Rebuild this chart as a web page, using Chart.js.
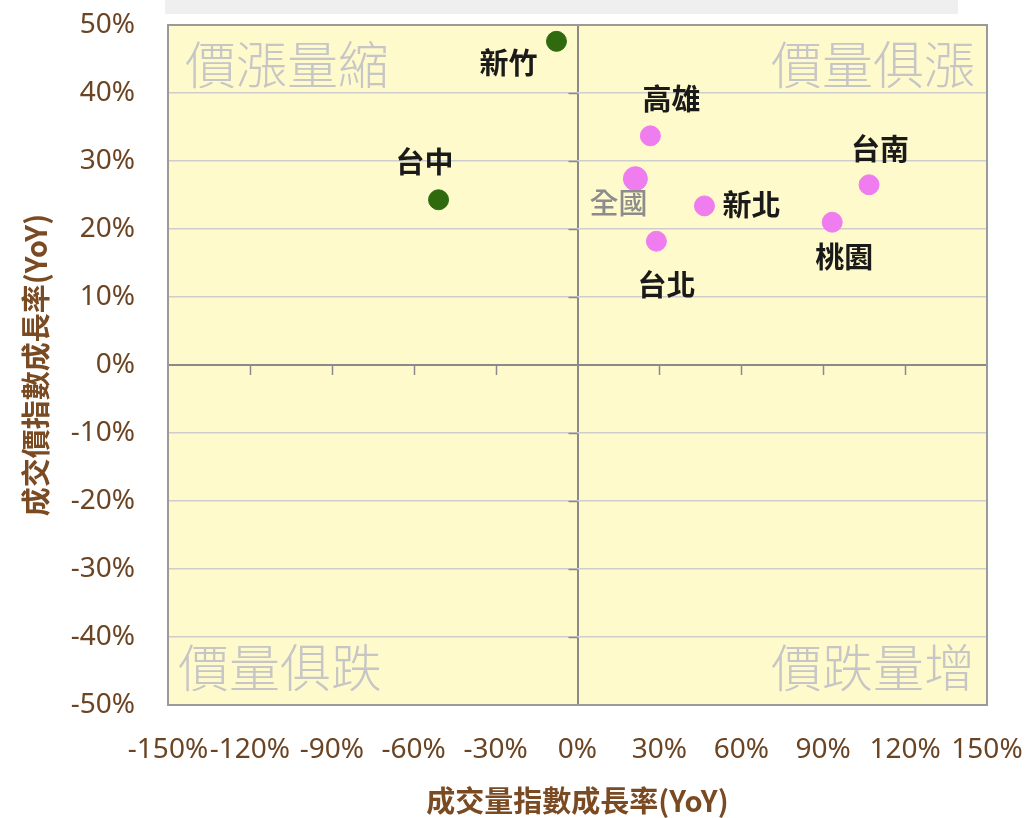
<!DOCTYPE html>
<html>
<head>
<meta charset="utf-8">
<script src="https://cdn.jsdelivr.net/npm/chart.js@4.4.1/dist/chart.umd.min.js"></script>
<style>
  html, body { margin: 0; padding: 0; background: #fff; }
  #wrap { position: relative; width: 1027px; height: 818px; }
  #band { position: absolute; left: 165px; top: 0; width: 793px; height: 14px; background: #efefef; }
  #chart { position: absolute; left: 0; top: 0; }
</style>
</head>
<body>
<div id="wrap">
  <div id="band"></div>
  <canvas id="chart" width="1027" height="818"></canvas>
</div>
<script>
// 成交量 / 成交價 指數年增率 (%)
const cities = ["新竹", "台中", "高雄", "全國", "新北", "台北", "台南", "桃園"];
const volumeYoY = [-7.7, -50.9, 26.7, 21.2, 46.5, 28.9, 106.8, 93.3];
const priceYoY = [47.6, 24.3, 33.7, 27.4, 23.4, 18.2, 26.5, 21.0];
const greenCities = ["新竹", "台中"];

const xTicks = [-150, -120, -90, -60, -30, 0, 30, 60, 90, 120, 150];
const yTicks = [-50, -40, -30, -20, -10, 0, 10, 20, 30, 40, 50];
const quadrantNames = ["價漲量縮", "價量俱漲", "價量俱跌", "價跌量增"];

// label offsets from each point (px)
const labelOffset = {
  "新竹": [-48, 22], "台中": [-14, -38], "高雄": [21, -37], "全國": [-17, 24],
  "新北": [47, -1], "台北": [10, 44], "台南": [11, -36], "桃園": [12, 35]
};

const tickColor = "#6b4423";
const fontCJK = "'Noto Sans CJK TC', 'Noto Sans', sans-serif";

const toPoints = (names) => names.map((n) => {
  const i = cities.indexOf(n);
  return { x: volumeYoY[i], y: priceYoY[i], name: n };
});

const greenPts = toPoints(greenCities);
const pinkPts = toPoints(cities.filter((c) => !greenCities.includes(c)));

const decorPlugin = {
  id: "decor",
  beforeDraw(chart) {
    const { ctx, chartArea: a } = chart;
    ctx.save();
    ctx.fillStyle = "#fffacb";
    ctx.fillRect(a.left, a.top, a.right - a.left, a.bottom - a.top);
    ctx.restore();
  },
  beforeDatasetsDraw(chart) {
    const { ctx, chartArea: a, scales } = chart;
    const x0 = scales.x.getPixelForValue(0);
    const y0 = scales.y.getPixelForValue(0);
    ctx.save();
    // quadrant names
    ctx.fillStyle = "#c6c6c6";
    ctx.font = "300 51px " + fontCJK;
    ctx.textBaseline = "middle";
    ctx.textAlign = "left";
    ctx.fillText(quadrantNames[0], a.left + 17, a.top + 40);
    ctx.fillText(quadrantNames[2], a.left + 10, a.bottom - 37);
    ctx.textAlign = "right";
    ctx.fillText(quadrantNames[1], a.right - 12, a.top + 40);
    ctx.fillText(quadrantNames[3], a.right - 12, a.bottom - 37);
    // tick marks along zero lines
    ctx.strokeStyle = "#8a8a8a";
    ctx.lineWidth = 1.5;
    ctx.beginPath();
    xTicks.slice(1, -1).forEach((v) => {
      if (v === 0) return;
      const px = Math.round(scales.x.getPixelForValue(v)) + 0.5;
      ctx.moveTo(px, y0);
      ctx.lineTo(px, y0 + 10);
    });
    yTicks.slice(1, -1).forEach((v) => {
      if (v === 0) return;
      const py = Math.round(scales.y.getPixelForValue(v)) + 0.5;
      ctx.moveTo(x0 - 9, py);
      ctx.lineTo(x0, py);
    });
    ctx.stroke();
    // plot border
    ctx.strokeStyle = "#9a9a9a";
    ctx.lineWidth = 2;
    ctx.strokeRect(a.left, a.top, a.right - a.left, a.bottom - a.top);
    ctx.restore();
  },
  afterDatasetsDraw(chart) {
    const { ctx, scales } = chart;
    ctx.save();
    ctx.textAlign = "center";
    ctx.textBaseline = "middle";
    cities.forEach((c, i) => {
      const px = scales.x.getPixelForValue(volumeYoY[i]);
      const py = scales.y.getPixelForValue(priceYoY[i]);
      const [dx, dy] = labelOffset[c];
      if (c === "全國") {
        ctx.fillStyle = "#8c8c8c";
        ctx.font = "500 29px " + fontCJK;
      } else {
        ctx.fillStyle = "#1a1a1a";
        ctx.font = "bold 29px " + fontCJK;
      }
      ctx.fillText(c, px + dx, py + dy);
    });
    ctx.restore();
  }
};

new Chart(document.getElementById("chart"), {
  type: "scatter",
  data: {
    datasets: [
      {
        label: "green",
        data: greenPts,
        backgroundColor: "#2f6a0f",
        borderColor: "#2f6a0f",
        pointRadius: 10,
      },
      {
        label: "pink",
        data: pinkPts,
        backgroundColor: "#f07df0",
        borderColor: "#f07df0",
        pointRadius: pinkPts.map((p) => (p.name === "全國" ? 12 : 10)),
      },
    ],
  },
  options: {
    responsive: false,
    animation: false,
    layout: { padding: { top: 25, right: 40, left: 0, bottom: 0 } },
    plugins: { legend: { display: false }, tooltip: { enabled: false } },
    scales: {
      x: {
        type: "linear",
        min: xTicks[0],
        max: xTicks[xTicks.length - 1],
        afterBuildTicks: (s) => { s.ticks = xTicks.map((v) => ({ value: v })); },
        afterFit: (s) => { s.height = 113; s.paddingLeft = 0; s.paddingRight = 0; },
        border: { display: false },
        grid: {
          drawTicks: false,
          color: (c) => (c.tick && c.tick.value === 0 ? "#8a8a8a" : "transparent"),
          lineWidth: (c) => (c.tick && c.tick.value === 0 ? 2 : 0),
        },
        ticks: {
          autoSkip: false,
          maxRotation: 0,
          padding: 28,
          color: tickColor,
          font: { family: "'Noto Sans', sans-serif", size: 28 },
          callback: (v) => v + "%",
        },
        title: {
          display: true,
          text: "成交量指數成長率(YoY)",
          color: "#7a4a22",
          font: { family: fontCJK, size: 29, weight: "bold" },
          padding: { top: 0, bottom: 0 },
        },
      },
      y: {
        type: "linear",
        min: yTicks[0],
        max: yTicks[yTicks.length - 1],
        afterBuildTicks: (s) => { s.ticks = yTicks.map((v) => ({ value: v })); },
        afterFit: (s) => { s.width = 168; s.paddingTop = 0; s.paddingBottom = 0; },
        border: { display: false },
        grid: {
          drawTicks: false,
          color: (c) => (c.tick && c.tick.value === 0 ? "#8a8a8a" : "#cdcdcd"),
          lineWidth: (c) => (c.tick && c.tick.value === 0 ? 2 : 1.5),
        },
        ticks: {
          padding: 33,
          color: tickColor,
          font: { family: "'Noto Sans', sans-serif", size: 28 },
          callback: (v) => v + "%",
        },
        title: {
          display: true,
          text: "成交價指數成長率(YoY)",
          color: "#7a4a22",
          font: { family: fontCJK, size: 29, weight: "bold" },
          padding: { top: 19, bottom: 0 },
        },
      },
    },
  },
  plugins: [decorPlugin],
});
</script>
</body>
</html>
